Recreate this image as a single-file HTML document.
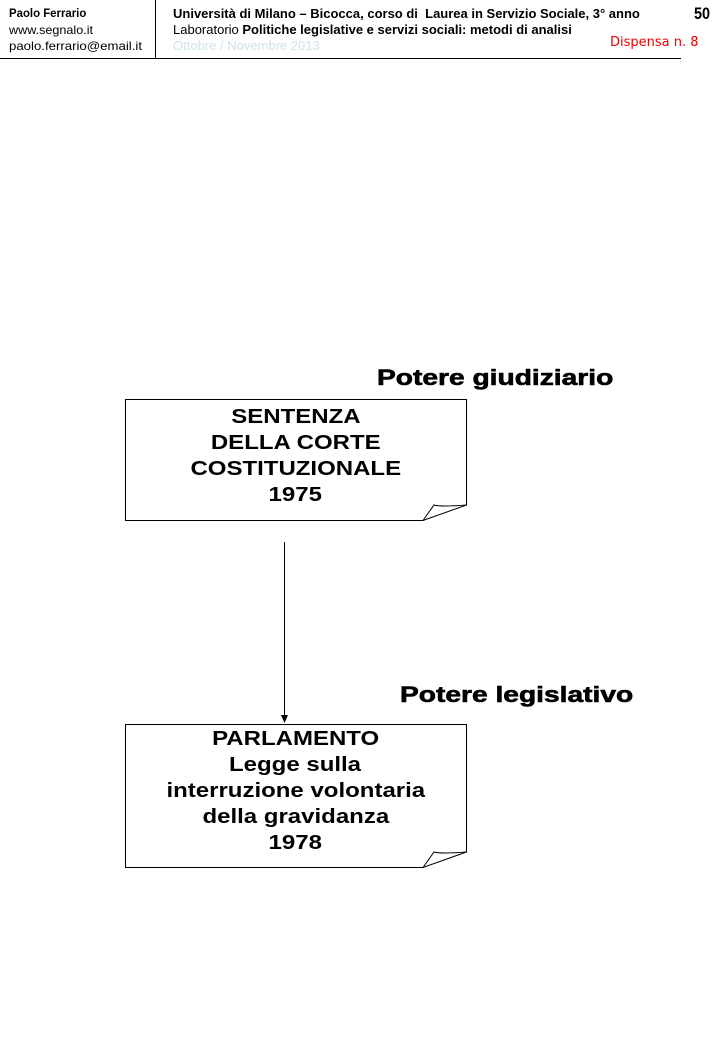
<!DOCTYPE html>
<html><head><meta charset="utf-8"><style>
body{margin:0;background:#fff;width:720px;height:1040px;overflow:hidden;position:relative;font-family:"Liberation Sans",sans-serif}
.t{position:absolute;white-space:nowrap;line-height:1}
.c{position:absolute;left:125px;width:341px;text-align:center;font-size:20px;font-weight:bold;line-height:26px}
.c span{display:inline-block;transform:scaleX(1.2)}
</style></head><body>
<div class="t" style="left:9px;top:7px;font-size:12px;font-weight:bold;transform:scaleX(.95);transform-origin:left">Paolo Ferrario</div>
<div class="t" style="left:9px;top:24px;font-size:12px;transform:scaleX(1.05);transform-origin:left">www.segnalo.it</div>
<div class="t" style="left:9px;top:40px;font-size:12px;transform:scaleX(1.1);transform-origin:left">paolo.ferrario@email.it</div>
<div class="t" style="left:173px;top:7px;font-size:13px;font-weight:bold;transform:scaleX(1.0);transform-origin:left">Università di Milano – Bicocca, corso di &nbsp;Laurea in Servizio Sociale, 3° anno</div>
<div class="t" style="left:173px;top:23px;font-size:13px;transform:scaleX(1.0);transform-origin:left">Laboratorio <b>Politiche legislative e servizi sociali: metodi di analisi</b></div>
<div class="t" style="left:173px;top:39px;font-size:13px;color:#cfe3ea;transform:scaleX(1.0);transform-origin:left">Ottobre / Novembre 2013</div>
<div class="t" style="left:694px;top:5px;font-size:17px;font-weight:bold;transform:scaleX(.85);transform-origin:left">50</div>
<div class="t" style="left:610px;top:36px;font-size:13px;color:#e00;font-family:'DejaVu Sans',sans-serif;transform:scaleX(1.0);transform-origin:left">Dispensa n. 8</div>
<svg width="720" height="1040" style="position:absolute;left:0;top:0">
<line x1="155.5" y1="0" x2="155.5" y2="58" stroke="#000"/>
<line x1="0" y1="58.5" x2="681" y2="58.5" stroke="#000"/>
<path d="M125.5 399.5H466.5V505L423 520.5H125.5Z" fill="#fff" stroke="#000"/>
<path d="M423 520.5L434 505Q440 507 466.5 505" fill="none" stroke="#000"/>
<path d="M125.5 724.5H466.5V852L423 867.5H125.5Z" fill="#fff" stroke="#000"/>
<path d="M423 867.5L434 852Q440 854 466.5 852" fill="none" stroke="#000"/>
<line x1="284.5" y1="542" x2="284.5" y2="716" stroke="#000"/>
<path d="M281 715L288 715L284.5 723Z" fill="#000"/>
</svg>
<div class="t" style="left:377px;top:367px;font-size:22px;font-weight:bold;transform:scaleX(1.28);transform-origin:left;-webkit-text-stroke:0.6px #000">Potere giudiziario</div>
<div class="t" style="left:400px;top:684px;font-size:22px;font-weight:bold;transform:scaleX(1.28);transform-origin:left;-webkit-text-stroke:0.6px #000">Potere legislativo</div>
<div class="c" style="top:404px"><span>SENTENZA</span><br><span>DELLA CORTE</span><br><span>COSTITUZIONALE</span><br><span>1975</span></div>
<div class="c" style="top:726px"><span>PARLAMENTO</span><br><span>Legge sulla</span><br><span>interruzione volontaria</span><br><span>della gravidanza</span><br><span>1978</span></div>
</body></html>
